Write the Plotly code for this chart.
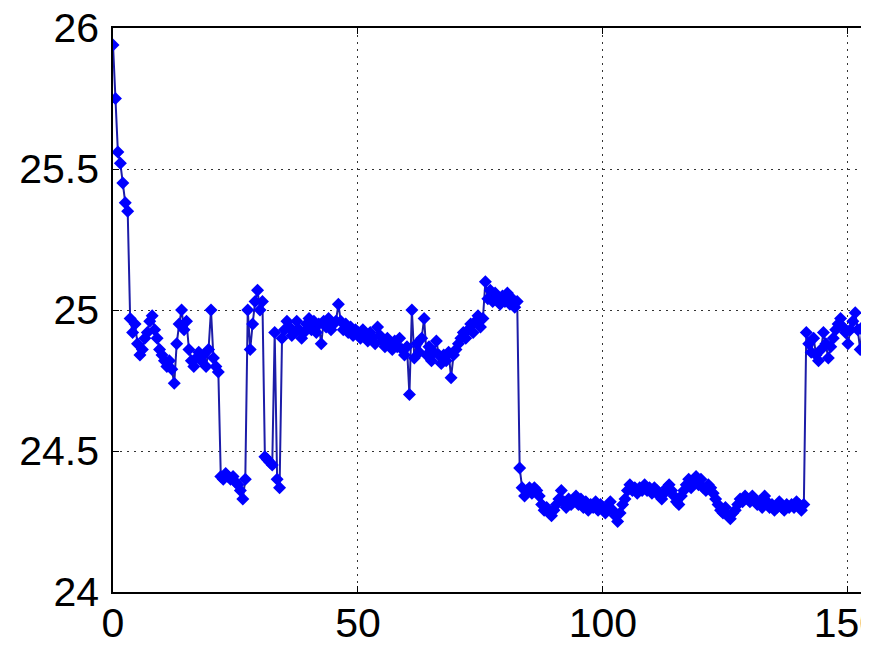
import plotly.graph_objects as go

x_start = 0.0
x_step = 0.5
values = [
    25.94, 25.75, 25.56, 25.52, 25.45, 25.38, 25.35,
    24.97, 24.92, 24.95, 24.88, 24.84, 24.86, 24.90, 24.92, 24.96, 24.98,
    24.93, 24.90, 24.86, 24.84, 24.82, 24.80, 24.82, 24.79, 24.74, 24.88,
    24.95, 25.00, 24.93, 24.96, 24.86, 24.82, 24.80, 24.83, 24.85, 24.82,
    24.84, 24.80, 24.86, 25.00, 24.83, 24.80, 24.78, 24.41, 24.40, 24.42,
    24.41, 24.40, 24.41, 24.39, 24.38, 24.36, 24.33, 24.40, 25.00, 24.86,
    24.95, 25.03, 25.07, 25.00, 25.03, 24.48, 24.47, 24.46, 24.45, 24.92,
    24.40, 24.37, 24.90, 24.93, 24.96, 24.94, 24.91, 24.92, 24.96, 24.93,
    24.90, 24.92, 24.95, 24.97, 24.93, 24.96, 24.92, 24.95, 24.88, 24.96,
    24.94, 24.97, 24.93, 24.95, 24.96, 25.02, 24.96, 24.93, 24.95, 24.92,
    24.94, 24.91, 24.93, 24.92, 24.90, 24.93, 24.91, 24.89, 24.92, 24.90,
    24.88, 24.94, 24.91, 24.89, 24.87, 24.90, 24.88, 24.86, 24.89, 24.87,
    24.90, 24.86, 24.84, 24.87, 24.70, 25.00, 24.83, 24.88, 24.85, 24.90,
    24.97, 24.84, 24.87, 24.82, 24.85, 24.89, 24.84, 24.81, 24.84, 24.82,
    24.85, 24.76, 24.84, 24.86, 24.88, 24.90, 24.92, 24.90, 24.93, 24.95,
    24.92, 24.96, 24.98, 24.94, 24.97, 25.10, 25.04, 25.07, 25.03, 25.06,
    25.04, 25.02, 25.05, 25.03, 25.06, 25.02, 25.04, 25.01, 25.03, 24.44,
    24.37, 24.34, 24.36, 24.37, 24.35, 24.37, 24.36, 24.34, 24.31, 24.29,
    24.30, 24.28, 24.27, 24.29, 24.31, 24.33, 24.36, 24.32, 24.30, 24.33,
    24.31, 24.32, 24.34, 24.31, 24.33, 24.30, 24.32, 24.29, 24.31, 24.30,
    24.32, 24.29, 24.31, 24.30, 24.28, 24.30, 24.32, 24.29, 24.27, 24.25,
    24.28, 24.31, 24.33, 24.36, 24.38, 24.36, 24.37, 24.35, 24.37, 24.36,
    24.38, 24.36, 24.37, 24.35, 24.37, 24.36, 24.34, 24.33, 24.35, 24.37,
    24.38, 24.36, 24.34, 24.32, 24.31, 24.34, 24.36, 24.38, 24.40, 24.37,
    24.39, 24.41, 24.38, 24.40, 24.37, 24.36, 24.38, 24.37, 24.35, 24.33,
    24.31, 24.29, 24.28, 24.30, 24.27, 24.26, 24.28, 24.29, 24.31, 24.33,
    24.32, 24.34, 24.33, 24.32, 24.34, 24.33, 24.31, 24.32, 24.30, 24.34,
    24.32, 24.30, 24.31, 24.29, 24.30, 24.32, 24.30, 24.29, 24.31, 24.30,
    24.31, 24.30, 24.32, 24.31, 24.29, 24.31, 24.92, 24.88, 24.85, 24.90,
    24.84, 24.82, 24.86, 24.92, 24.88, 24.83, 24.87, 24.90, 24.93, 24.95,
    24.97, 24.94, 24.92, 24.88, 24.93, 24.96, 24.99, 24.93, 24.86, 24.94,
    24.92, 24.86,
]
x_values = [x_start + i * x_step for i in range(len(values))]

x_ticks = [0, 50, 100, 150]
x_tick_labels = ["0", "50", "100", "150"]
y_ticks = [24, 24.5, 25, 25.5, 26]
y_tick_labels = ["24", "24.5", "25", "25.5", "26"]

fig = go.Figure()
fig.add_trace(go.Scatter(
    x=x_values, y=values, mode="lines+markers",
    line=dict(color="#1c1ca8", width=2),
    marker=dict(symbol="diamond", size=10, color="#0000ff", line=dict(width=0)),
    showlegend=False,
))

font = dict(family="Liberation Sans, Arial, sans-serif", size=41, color="#000000")

# the page body has an 8px margin, so the figure is sized to end at the window edges
fig.update_layout(
    width=861, height=637,
    margin=dict(l=105, r=0, t=20, b=53, autoexpand=False),
    paper_bgcolor="#ffffff", plot_bgcolor="#ffffff",
    font=font,
)
fig.update_xaxes(
    range=[0, 154.3], tickvals=x_ticks, ticktext=x_tick_labels,
    showgrid=True, gridcolor="#333333", gridwidth=1.2, griddash="2px,5px",
    showline=True, linecolor="#000000", linewidth=1.5, mirror="ticks",
    ticks="inside", ticklen=6, tickcolor="#000000",
    zeroline=False, automargin=False, ticklabelstandoff=-6,
    ticklabeloverflow="allow",
)
fig.update_yaxes(
    range=[24, 26], tickvals=y_ticks, ticktext=y_tick_labels,
    showgrid=True, gridcolor="#333333", gridwidth=1.2, griddash="2px,5px",
    showline=True, linecolor="#000000", linewidth=1.5, mirror=False,
    ticks="inside", ticklen=6, tickcolor="#000000",
    zeroline=False, automargin=False, ticklabelstandoff=4,
    ticklabeloverflow="allow",
)

fig.write_html("out.html")
